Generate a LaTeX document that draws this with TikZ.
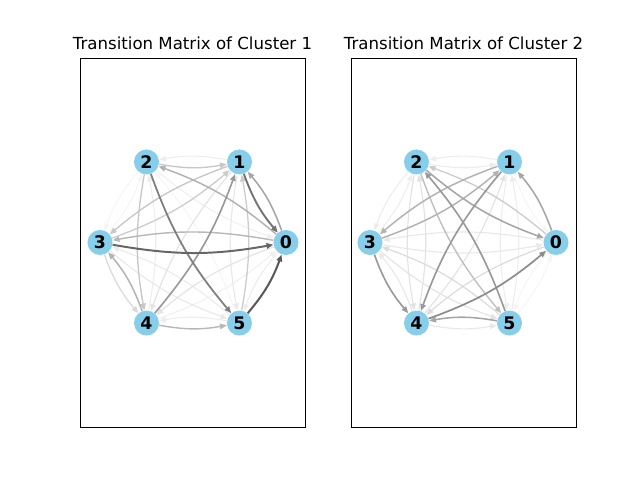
\documentclass[tikz,border=0pt]{standalone}
\usepackage{fontspec}
\setmainfont{DejaVu Sans}
\usetikzlibrary{arrows.meta}

\definecolor{nodeblue}{HTML}{87CEEB}

\tikzset{
  state/.style={circle, fill=nodeblue, minimum size=0.25in, inner sep=0pt, font=\fontsize{12.5}{14}\selectfont\bfseries},
  edge/.style={-{Triangle[length=5pt,width=4pt]}, bend right=10},
  frame/.style={draw=black, line width=0.6pt},
  title/.style={anchor=base, font=\fontsize{12}{14}\selectfont}
}

% edge: #1=panel prefix, #2=from, #3=to, #4=darkness (percent black)
\newcommand{\tedge}[4]{
  \draw[edge, draw=black!#4, line width=0.7pt+0.012pt*#4] (#1#2) to (#1#3);
}

\begin{document}
\begin{tikzpicture}[x=0.01in, y=-0.01in]
\useasboundingbox (0,0) rectangle (640,480);

% ── Frames and titles ──
\draw[frame] (80,58) rectangle (305,427);
\draw[frame] (351,58) rectangle (576,427);
\node[title] (t1) at (192.5,50) {Transition Matrix of Cluster 1};
\node[title] (t2) at (463.5,50) {Transition Matrix of Cluster 2};

% ── Cluster 1 ──
\foreach \i in {0,...,5} {
  \node[state] (a\i) at ({193+93*cos(60*\i)}, {242.5-93*sin(60*\i)}) {\i};
}
\tedge{a}{2}{0}{6}
\tedge{a}{4}{0}{6}
\tedge{a}{0}{5}{7}
\tedge{a}{1}{2}{7}
\tedge{a}{3}{2}{4}
\tedge{a}{2}{3}{4}
\tedge{a}{4}{2}{7}
\tedge{a}{5}{2}{4}
\tedge{a}{5}{4}{7}
\tedge{a}{1}{5}{9}
\tedge{a}{5}{3}{8}
\tedge{a}{3}{5}{9}
\tedge{a}{0}{4}{11}
\tedge{a}{1}{4}{11}
\tedge{a}{3}{4}{15}
\tedge{a}{3}{1}{20}
\tedge{a}{1}{3}{22}
\tedge{a}{5}{1}{20}
\tedge{a}{2}{1}{22}
\tedge{a}{2}{4}{22}
\tedge{a}{0}{3}{28}
\tedge{a}{4}{5}{28}
\tedge{a}{0}{2}{30}
\tedge{a}{4}{3}{30}
\tedge{a}{0}{1}{35}
\tedge{a}{4}{1}{40}
\tedge{a}{2}{5}{50}
\tedge{a}{1}{0}{55}
\tedge{a}{3}{0}{60}
\tedge{a}{5}{0}{65}

% ── Cluster 2 ──
\foreach \i in {0,...,5} {
  \node[state] (b\i) at ({463+93*cos(60*\i)}, {242.5-93*sin(60*\i)}) {\i};
}
\tedge{b}{1}{0}{4}
\tedge{b}{5}{0}{4}
\tedge{b}{0}{5}{4}
\tedge{b}{1}{2}{7}
\tedge{b}{2}{1}{7}
\tedge{b}{1}{5}{7}
\tedge{b}{5}{1}{7}
\tedge{b}{2}{3}{7}
\tedge{b}{3}{2}{7}
\tedge{b}{3}{0}{9}
\tedge{b}{0}{3}{9}
\tedge{b}{4}{3}{9}
\tedge{b}{4}{5}{9}
\tedge{b}{4}{1}{11}
\tedge{b}{2}{4}{11}
\tedge{b}{4}{2}{11}
\tedge{b}{3}{5}{11}
\tedge{b}{0}{4}{14}
\tedge{b}{5}{3}{14}
\tedge{b}{0}{2}{20}
\tedge{b}{2}{5}{25}
\tedge{b}{1}{3}{30}
\tedge{b}{3}{1}{30}
\tedge{b}{0}{1}{35}
\tedge{b}{2}{0}{35}
\tedge{b}{5}{4}{35}
\tedge{b}{1}{4}{40}
\tedge{b}{5}{2}{40}
\tedge{b}{3}{4}{40}
\tedge{b}{4}{0}{45}

\end{tikzpicture}
\end{document}
